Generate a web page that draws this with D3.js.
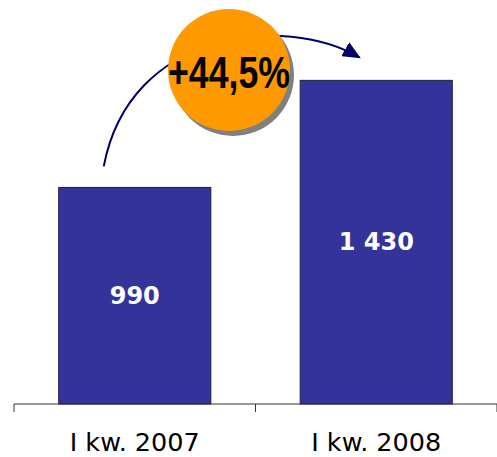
<!DOCTYPE html>
<html><head><meta charset="utf-8">
<script src="https://cdn.jsdelivr.net/npm/d3@7"></script>
<style>body{margin:0;background:#fff}svg{display:block}</style>
</head><body>
<svg id="c" width="497" height="457"></svg>
<script>
const categories = ["I kw. 2007", "I kw. 2008"];
const values = [990, 1430];
const valueLabels = ["990", "1 430"];
const growthLabel = "+44,5%";

const svg = d3.select("#c");
const x = d3.scaleBand().domain(categories).range([14, 497]).padding(0);
const y = d3.scaleLinear().domain([100, 1600]).range([404, 39]);
const barW = x.bandwidth() * 0.63;

svg.selectAll("rect.bar").data(values).join("rect")
  .attr("class", "bar")
  .attr("x", (d, i) => x(categories[i]) + (x.bandwidth() - barW) / 2)
  .attr("y", d => y(d))
  .attr("width", barW)
  .attr("height", d => y(100) - y(d))
  .attr("fill", "#333399")
  .attr("stroke", "#222244")
  .attr("stroke-width", 1);

svg.selectAll("text.val").data(values).join("text")
  .attr("class", "val")
  .attr("x", (d, i) => x(categories[i]) + x.bandwidth() / 2)
  .attr("y", d => y(d) + (y(100) - y(d)) / 2 + 8)
  .attr("text-anchor", "middle")
  .attr("fill", "#fff")
  .attr("font-family", "Verdana, 'DejaVu Sans', sans-serif")
  .attr("font-weight", "bold")
  .attr("font-size", 24)
  .text((d, i) => valueLabels[i]);

// axis
const g = svg.append("g").attr("transform", "translate(0,404)");
g.append("line").attr("x1", 14).attr("x2", 497).attr("y1", 0).attr("y2", 0)
  .attr("stroke", "#333").attr("stroke-width", 1);
const bounds = [14, ...categories.slice(1).map(c => x(c)), 497];
g.selectAll("line.tk").data(bounds).join("line").attr("class", "tk")
  .attr("x1", d => d).attr("x2", d => d).attr("y1", 0).attr("y2", 8)
  .attr("stroke", "#333").attr("stroke-width", 1);
g.selectAll("text.cat").data(categories).join("text").attr("class", "cat")
  .attr("x", d => x(d) + x.bandwidth() / 2)
  .attr("y", 47)
  .attr("text-anchor", "middle")
  .attr("fill", "#000")
  .attr("font-family", "Verdana, 'DejaVu Sans', sans-serif")
  .attr("font-size", 25.5)
  .text(d => d);

// arrow
const defs = svg.append("defs");
defs.append("marker").attr("id", "ah").attr("viewBox", "0 0 10 10")
  .attr("refX", 9).attr("refY", 5).attr("markerWidth", 18).attr("markerHeight", 16)
  .attr("markerUnits", "userSpaceOnUse").attr("orient", "auto")
  .attr("preserveAspectRatio", "none")
  .append("path").attr("d", "M0,0 L10,5 L0,10 Z").attr("fill", "#000066");
const x0 = x(categories[0]) + x.bandwidth() / 2, x1 = x(categories[1]) + x.bandwidth() / 2;
svg.append("path")
  .attr("d", `M${x0 - 31},${y(values[0]) - 21} C${x0 - 5},${y(1600) - 10} ${x0 + 150},${y(1600) - 25} ${x1 - 17},${y(values[1]) - 23}`)
  .attr("fill", "none").attr("stroke", "#000066").attr("stroke-width", 2)
  .attr("marker-end", "url(#ah)");

// bubble
const cx = 229, cy = 70, r = 61;
svg.append("circle").attr("cx", cx + 4).attr("cy", cy + 5).attr("r", r).attr("fill", "#808080");
svg.append("circle").attr("cx", cx).attr("cy", cy).attr("r", r).attr("fill", "#FF9900");
svg.append("text").attr("x", cx).attr("y", cy + 18)
  .attr("text-anchor", "middle")
  .attr("font-family", "'Liberation Sans Narrow', 'Arial Narrow', 'Liberation Sans', sans-serif")
  .attr("font-weight", "bold").attr("font-size", 44)
  .attr("textLength", 122).attr("lengthAdjust", "spacingAndGlyphs")
  .attr("fill", "#000")
  .text(growthLabel);
</script>
</body></html>
